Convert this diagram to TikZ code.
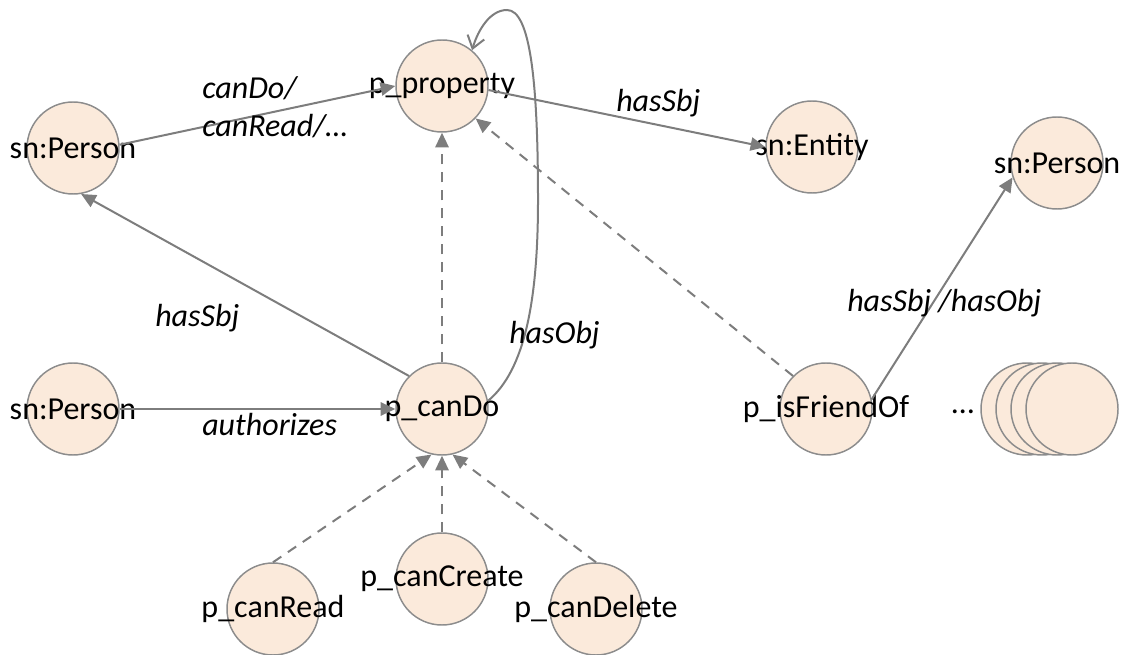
\documentclass[tikz,border=0pt]{standalone}
\usepackage{fontspec}
\setmainfont{Carlito}
\usetikzlibrary{arrows.meta}
\definecolor{ballfill}{RGB}{251,234,219}
\definecolor{ballline}{RGB}{140,140,140}
\definecolor{edgegray}{RGB}{125,125,125}
\begin{document}
\begin{tikzpicture}[x=0.75pt,y=-0.75pt,
  every node/.style={font=\fontsize{24}{28}\selectfont},
  ball/.style={circle,draw=ballline,fill=ballfill,line width=1.1pt,minimum size=69pt,inner sep=0pt},
  rel/.style={inner sep=0pt,anchor=west,font=\fontsize{24}{28}\selectfont\itshape},
  link/.style={draw=edgegray,line width=1.5pt,-{Triangle[length=11pt,width=10pt]}},
  sublink/.style={link,dash pattern=on 7.5pt off 6pt},
  loopback/.style={draw=edgegray,line width=1.5pt,-{Straight Barb[length=9pt,width=13pt,line width=1.5pt]}}]
\useasboundingbox (0,0) rectangle (1126,655);

% resources
\node[ball] (persTL) at (73,148) {\makebox[0pt]{sn:Person}};
\node[ball] (prop) at (442,86) {\makebox[0pt]{p\_property}};
\node[ball] (entity) at (812,147) {\makebox[0pt]{sn:Entity}};
\node[ball] (persTR) at (1057,163) {\makebox[0pt]{sn:Person}};
\node[ball] (persML) at (73,409) {\makebox[0pt]{sn:Person}};
\node[ball] (cando) at (442,409) {\makebox[0pt]{p\_canDo}};
\node[ball] (friend) at (826,409) {\makebox[0pt]{p\_isFriendOf}};
\node[ball] (canread) at (273,609) {\makebox[0pt]{p\_canRead}};
\node[ball] (cancreate) at (442,579) {\makebox[0pt]{p\_canCreate}};
\node[ball] (candelete) at (596,609) {\makebox[0pt]{p\_canDelete}};

% further properties, stacked
\node[ball] (more1) at (1027,409) {};
\node[ball] (more2) at (1042,409) {};
\node[ball] (more3) at (1057,409) {};
\node[ball] (more4) at (1072,409) {};
\node[inner sep=0pt] (dots) at (963,412) {…};

% relations
\draw[link] (persTL.4) -- (prop.west);
\draw[link] (prop.-5) -- (entity.west);
\draw[link] (cando.135) -- (persTL.-80);
\draw[link] (persML.east) -- (cando.west);
\draw[link] (friend.12) -- (persTR.198);

% sub-property relations
\draw[sublink] (cando.north) -- (prop.south);
\draw[sublink] (friend.135) -- (prop.-44);
\draw[sublink] (canread.north) -- (cando.-103);
\draw[sublink] (cancreate.north) -- (cando.south);
\draw[sublink] (candelete.north) -- (cando.-77);

% hasObj loop from p_canDo back to p_property
\coordinate (loopR) at (538,200);
\coordinate (loopTop) at (507,10);
\draw[loopback] (cando.10) .. controls (525,370) and (538,300) .. (loopR)
  .. controls (538,80) and (530,10) .. (loopTop)
  .. controls (490,10) and (478,30) .. (prop.50);

% edge labels
\node[rel] (lCanDo) at (202,88) {canDo/};
\node[rel] (lCanRead) at (202,126) {canRead/…};
\node[rel] (lSbjTop) at (616,103) {hasSbj};
\node[rel] (lSbjLeft) at (155,318) {hasSbj};
\node[rel] (lObj) at (509,335) {hasObj};
\node[rel] (lAuth) at (202,425) {authorizes};
\node[rel] (lSbjObj) at (847,303) {hasSbj /hasObj};
\end{tikzpicture}
\end{document}
